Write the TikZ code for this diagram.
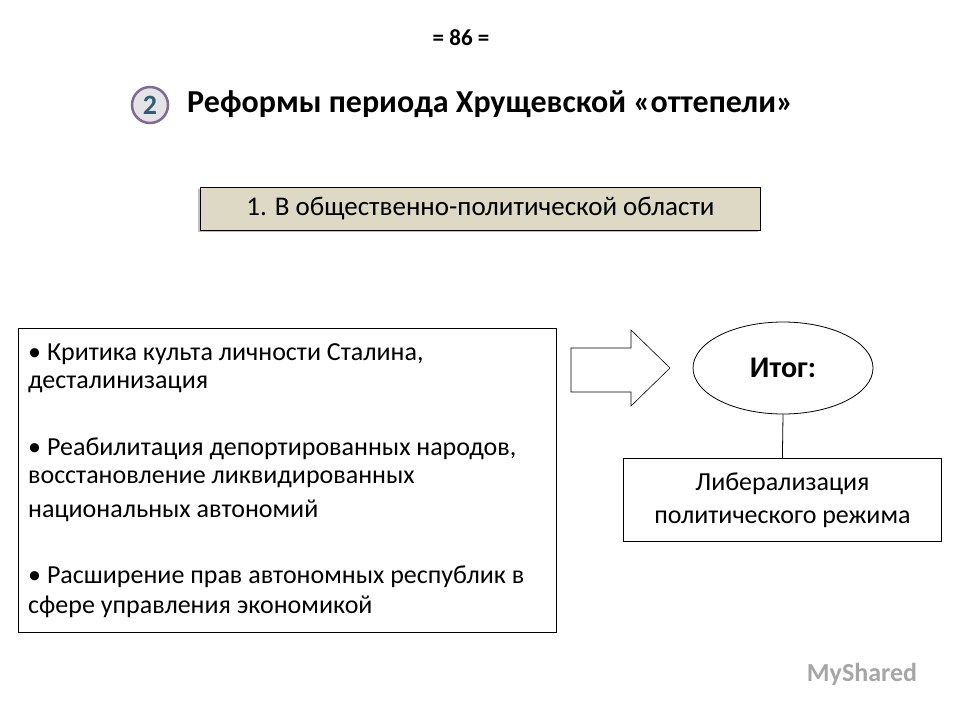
\documentclass[tikz,border=0pt]{standalone}
\usepackage{fontspec}
\setmainfont{Carlito}
\usetikzlibrary{shapes.geometric}
\definecolor{beige}{HTML}{DDD9C4}
\definecolor{circfill}{HTML}{E4E4E4}
\definecolor{circline}{HTML}{7E6A9A}
\definecolor{numcol}{HTML}{2E5C7A}
\tikzset{
  fs/.style={font=\fontsize{26}{30}\selectfont},
  ln/.style={anchor=west, inner sep=0pt, fs},
  boxed/.style={draw=black, line width=0.8pt}
}
\begin{document}
\begin{tikzpicture}[x=1pt,y=-1pt]
\useasboundingbox (0,0) rectangle (960,720);
\fill[white] (0,0) rectangle (960,720);
\node[font=\bfseries\fontsize{23}{26}\selectfont] (pg) at (461,38) {= 86 =};
\node[circle, draw=circline, line width=2.5pt, fill=circfill, minimum size=36pt, inner sep=0pt, text=numcol, font=\bfseries\fontsize{28}{30}\selectfont] (num) at (150,105) {2};
\node[anchor=west, inner sep=0pt, font=\bfseries\fontsize{32}{36}\selectfont] (title) at (187,104) {Реформы периода Хрущевской «оттепели»};
\fill[gray!50] (198,189) rectangle (758,232);
\node[boxed, fill=beige, minimum width=560pt, minimum height=43pt, inner sep=0pt, anchor=north west, font=\fontsize{27}{30}\selectfont] (b1) at (200,187) {1. В общественно-политической области};
\node[boxed, minimum width=538pt, minimum height=304pt, inner sep=0pt, anchor=north west] (lb) at (18,328) {};
\node[ln] (l1) at (28,354) {• Критика культа личности Сталина,};
\node[ln] (l2) at (28,384) {десталинизация};
\node[ln] (l3) at (28,449) {• Реабилитация депортированных народов,};
\node[ln] (l4) at (28,479) {восстановление ликвидированных};
\node[ln] (l5) at (28,511) {национальных автономий};
\node[ln] (l6) at (28,577) {• Расширение прав автономных республик в};
\node[ln] (l7) at (28,607) {сфере управления экономикой};
\coordinate (a1) at (571,348);
\coordinate (a2) at (631,348);
\coordinate (a3) at (631,330);
\coordinate (a4) at (670,368);
\coordinate (a5) at (631,406);
\coordinate (a6) at (631,392);
\coordinate (a7) at (571,392);
\draw[line width=0.6pt] (a1) -- (a2) -- (a3) -- (a4) -- (a5) -- (a6) -- (a7) -- cycle;
\node[ellipse, boxed, minimum width=180pt, minimum height=92pt, inner sep=0pt, font=\bfseries\fontsize{30}{32}\selectfont] (it) at (783,368) {Итог:};
\node[boxed, minimum width=318pt, minimum height=83pt, inner sep=0pt, anchor=north west, align=center, font=\fontsize{26}{33}\selectfont] (res) at (623,458) {Либерализация\\политического режима};
\draw[line width=0.8pt] (it.south) -- (res.north);
\node[text=gray!70, font=\bfseries\fontsize{26}{28}\selectfont] (wm) at (862,674) {MyShared};
\end{tikzpicture}
\end{document}
